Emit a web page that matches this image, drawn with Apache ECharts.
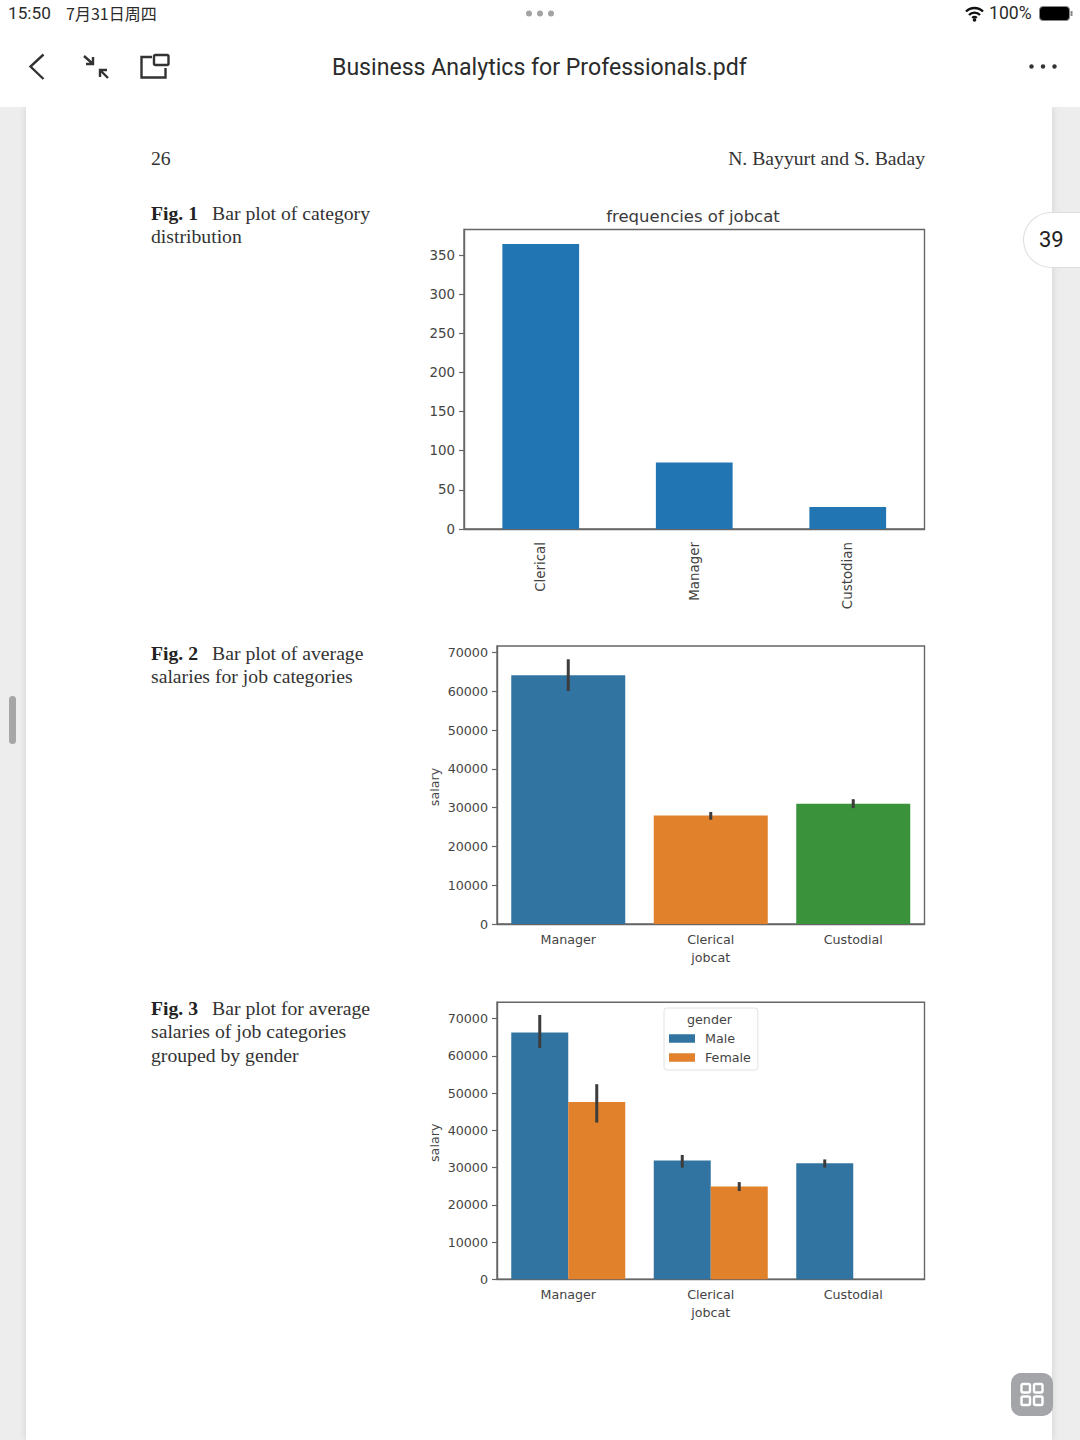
<!DOCTYPE html>
<html><head><meta charset="utf-8">
<script src="https://cdn.jsdelivr.net/npm/echarts@6/dist/echarts.min.js"></script>
<style>
html,body{margin:0;padding:0;width:1080px;height:1440px;overflow:hidden;background:#ededed}
.abs{position:absolute;white-space:nowrap}
#top{position:absolute;left:0;top:0;width:1080px;height:107px;background:#fff}
#page{position:absolute;left:26px;top:107px;width:1026px;height:1333px;background:#fff;box-shadow:0 0 7px rgba(0,0,0,.13)}
#chart{position:absolute;left:0;top:0;width:1080px;height:1440px}
.ui{font-family:Roboto,"Noto Sans CJK SC",sans-serif;color:#2b2b2b}
.doc{font-family:"Liberation Serif",serif;font-size:19.7px;color:#333;line-height:23.3px}
.doc b{color:#222}
.doc i{font-style:normal;margin-left:14px}
</style></head><body>
<div id="page"></div><div id="top"></div>
<div class="abs ui" style="left:8px;top:3px;font-size:17.2px;line-height:20px">15:50</div>
<div class="abs ui" style="left:66px;top:4px;font-size:16px;line-height:19px;font-family:'Noto Sans CJK SC',sans-serif">7月31日周四</div>
<div class="abs ui" style="left:989px;top:3px;font-size:17.6px;line-height:20px">100%</div>
<div class="abs ui" style="left:332px;top:54px;font-size:23.1px;line-height:28px">Business Analytics for Professionals.pdf</div>
<svg class="abs" style="left:0;top:0" width="1080" height="107" viewBox="0 0 1080 107">
 <g fill="#a3a3a3"><circle cx="529" cy="13.5" r="3"/><circle cx="540" cy="13.5" r="3"/><circle cx="551" cy="13.5" r="3"/></g>
 <path d="M966 11.5a12 12 0 0 1 17 0M969 15a7.5 7.5 0 0 1 11 0M972.3 18a3 3 0 0 1 4.4 0" fill="none" stroke="#111" stroke-width="2.4"/><circle cx="974.5" cy="20" r="1.8" fill="#111"/>
 <rect x="1039.5" y="6.5" width="30" height="14" rx="3.5" fill="#000" stroke="#888"/><rect x="1070.5" y="11" width="2" height="5" fill="#888"/>
 <path d="M43.5 54.5L30.5 66.5L43.5 79" fill="none" stroke="#333" stroke-width="2.4"/>
 <path d="M84 56L93 64M93 57V64H86" fill="none" stroke="#333" stroke-width="2.4"/>
 <path d="M108 78L100 70M100 77V70H107" fill="none" stroke="#333" stroke-width="2.4"/>
 <path d="M152 57H141.500V77.500H165.500V68" fill="none" stroke="#333" stroke-width="2.4"/><rect x="154" y="55" width="14.500" height="10" rx="1.500" fill="none" stroke="#333" stroke-width="2.400"/>
 <g fill="#333"><circle cx="1031.500" cy="66.500" r="2.200"/><circle cx="1043" cy="66.500" r="2.200"/><circle cx="1054.500" cy="66.500" r="2.200"/></g>
</svg>
<div class="abs doc" style="left:151px;top:147px">26</div>
<div class="abs doc" style="right:155px;top:147px">N. Bayyurt and S. Baday</div>
<div class="abs doc" style="left:151px;top:202px"><b>Fig. 1</b><i>Bar plot of category</i><br>distribution</div>
<div class="abs doc" style="left:151px;top:641.5px"><b>Fig. 2</b><i>Bar plot of average</i><br>salaries for job categories</div>
<div class="abs doc" style="left:151px;top:997px"><b>Fig. 3</b><i>Bar plot for average</i><br>salaries of job categories<br>grouped by gender</div>
<div class="abs" style="left:1023px;top:212px;width:57px;height:56px;box-sizing:border-box;background:#fff;border:1px solid #ddd;border-right:none;border-radius:28px 0 0 28px;font:22px/54px Roboto,sans-serif;color:#222;text-align:left;padding-left:15px">39</div>
<div class="abs" style="left:9px;top:696px;width:7px;height:48px;border-radius:4px;background:#a6a6a6"></div>
<div class="abs" style="left:1011px;top:1373px;width:42px;height:43px;border-radius:10px;background:#a3a5a9"></div>
<svg class="abs" style="left:1011px;top:1373px" width="42" height="43" viewBox="0 0 42 43"><g fill="none" stroke="#fff" stroke-width="2.400"><rect x="10.500" y="11" width="8.500" height="8.500" rx="1.500"/><rect x="23" y="11" width="8.500" height="8.500" rx="1.500"/><rect x="10.500" y="23.500" width="8.500" height="8.500" rx="1.500"/><rect x="23" y="23.500" width="8.500" height="8.500" rx="1.500"/></g></svg>
<div id="chart"></div>
<script>
// Fig. 1
const freqCategories = ['Clerical', 'Manager', 'Custodian'];
const freqValues = [364, 85, 28];
const freqTicks = [0, 50, 100, 150, 200, 250, 300, 350];
// Fig. 2
const salaryCategories = ['Manager', 'Clerical', 'Custodial'];
const salaryMeans = [64200, 28000, 31000];
const salaryLow = [60100, 26900, 29900];
const salaryHigh = [68300, 28900, 32200];
const salaryTicks = [0, 10000, 20000, 30000, 40000, 50000, 60000, 70000];
// Fig. 3
const maleMeans = [66300, 31900, 31200];
const maleLow = [62100, 30000, 30000];
const maleHigh = [71000, 33400, 32200];
const femaleMeans = [47600, 24900, null];
const femaleLow = [42100, 23700, null];
const femaleHigh = [52400, 26100, null];

const FONT = '"DejaVu Sans", sans-serif';
const TEXT = '#444';
const AXIS = '#666';
const palette = {blue1: '#2175b2', blue: '#3274a1', orange: '#e1812c', green: '#3a923a'};
const fig2Colors = [palette.blue, palette.orange, palette.green];

function xAxis(idx, cats, name, rotate) {
  return {
    type: 'category', gridIndex: idx, data: cats,
    name: name, nameLocation: 'middle', nameGap: 27,
    nameTextStyle: {fontFamily: FONT, fontSize: 12.7, color: TEXT},
    axisLine: {lineStyle: {color: AXIS, width: 1.4}},
    axisTick: {alignWithLabel: true, length: 5, lineStyle: {color: AXIS, width: 1.2}},
    axisLabel: {fontFamily: FONT, fontSize: rotate ? 13.4 : 12.7, color: TEXT, rotate: rotate || 0,
      margin: rotate ? 13 : 9, interval: 0, padding: rotate ? [0, 0, 5, 0] : 0}
  };
}
function yAxis(idx, max, ticks, name, fs) {
  return {
    type: 'value', gridIndex: idx, min: 0, max: max,
    name: name, nameLocation: 'middle', nameGap: 56,
    nameTextStyle: {fontFamily: FONT, fontSize: 12.7, color: TEXT, padding: [0, 4, 0, 0]},
    splitLine: {show: false},
    axisLine: {show: true, lineStyle: {color: AXIS, width: 1.4}},
    axisTick: {show: true, length: 5, customValues: ticks, lineStyle: {color: AXIS, width: 1.2}},
    axisLabel: {fontFamily: FONT, fontSize: fs, color: TEXT, margin: 9, customValues: ticks, formatter: v => String(v)}
  };
}
function errSeries(idx, low, high, offset) {
  return {
    type: 'custom', xAxisIndex: idx, yAxisIndex: idx, z: 5, silent: true,
    data: low.map((v, i) => [i, v, high[i]]).filter(d => d[1] !== null),
    encode: {x: 0, y: [1, 2]},
    renderItem(params, api) {
      const band = api.size([1, 0])[0];
      const a = api.coord([api.value(0), api.value(1)]);
      const b = api.coord([api.value(0), api.value(2)]);
      const x = a[0] + band * offset;
      return {type: 'line', shape: {x1: x, y1: a[1], x2: x, y2: b[1]}, style: {stroke: '#3c3c3c', lineWidth: 3}};
    }
  };
}
const gridBase = {show: true, borderColor: AXIS, borderWidth: 1.4, backgroundColor: 'transparent'};
const option = {
  animation: false,
  title: {text: 'frequencies of jobcat', left: 688, top: 203, textAlign: 'center',
    textStyle: {fontFamily: FONT, fontSize: 16.5, fontWeight: 'normal', color: '#3a3a3a'}},
  legend: {
    show: true, data: ['Male', 'Female'], orient: 'vertical', left: 664, top: 1008,
    padding: [24, 7, 6, 5], itemWidth: 26, itemHeight: 8.5, itemGap: 6, icon: 'rect',
    backgroundColor: '#fff', borderColor: '#e2e2e2', borderWidth: 1, borderRadius: 3,
    textStyle: {fontFamily: FONT, fontSize: 12.7, color: TEXT, padding: [0, 0, 0, 5]}
  },
  graphic: [{type: 'text', left: 687, top: 1013, z: 100,
    style: {text: 'gender', fontFamily: FONT, fontSize: 12.7, fill: TEXT}}],
  grid: [
    Object.assign({left: 464, top: 229.5, width: 460.5, height: 299.5}, gridBase),
    Object.assign({left: 497, top: 646, width: 427.5, height: 278}, gridBase),
    Object.assign({left: 497, top: 1002.3, width: 427.5, height: 277}, gridBase)
  ],
  xAxis: [xAxis(0, freqCategories, '', 90), xAxis(1, salaryCategories, 'jobcat'), xAxis(2, salaryCategories, 'jobcat')],
  yAxis: [yAxis(0, 382.6, freqTicks, '', 13.4), yAxis(1, 71730, salaryTicks, 'salary', 12.7), yAxis(2, 74400, salaryTicks, 'salary', 12.7)],
  series: [
    {type: 'bar', name: 'count', xAxisIndex: 0, yAxisIndex: 0, data: freqValues, barWidth: '50%', itemStyle: {color: palette.blue1}},
    {type: 'bar', name: 'mean', xAxisIndex: 1, yAxisIndex: 1, barWidth: '80%',
      data: salaryMeans.map((v, i) => ({value: v, itemStyle: {color: fig2Colors[i]}}))},
    errSeries(1, salaryLow, salaryHigh, 0),
    {type: 'bar', name: 'Male', xAxisIndex: 2, yAxisIndex: 2, data: maleMeans, barGap: '0%', barCategoryGap: '20%', itemStyle: {color: palette.blue}},
    {type: 'bar', name: 'Female', xAxisIndex: 2, yAxisIndex: 2, data: femaleMeans, itemStyle: {color: palette.orange}},
    errSeries(2, maleLow, maleHigh, -0.2),
    errSeries(2, femaleLow, femaleHigh, 0.2)
  ]
};
echarts.init(document.getElementById('chart'), null, {renderer: 'svg'}).setOption(option);
</script>
</body></html>
